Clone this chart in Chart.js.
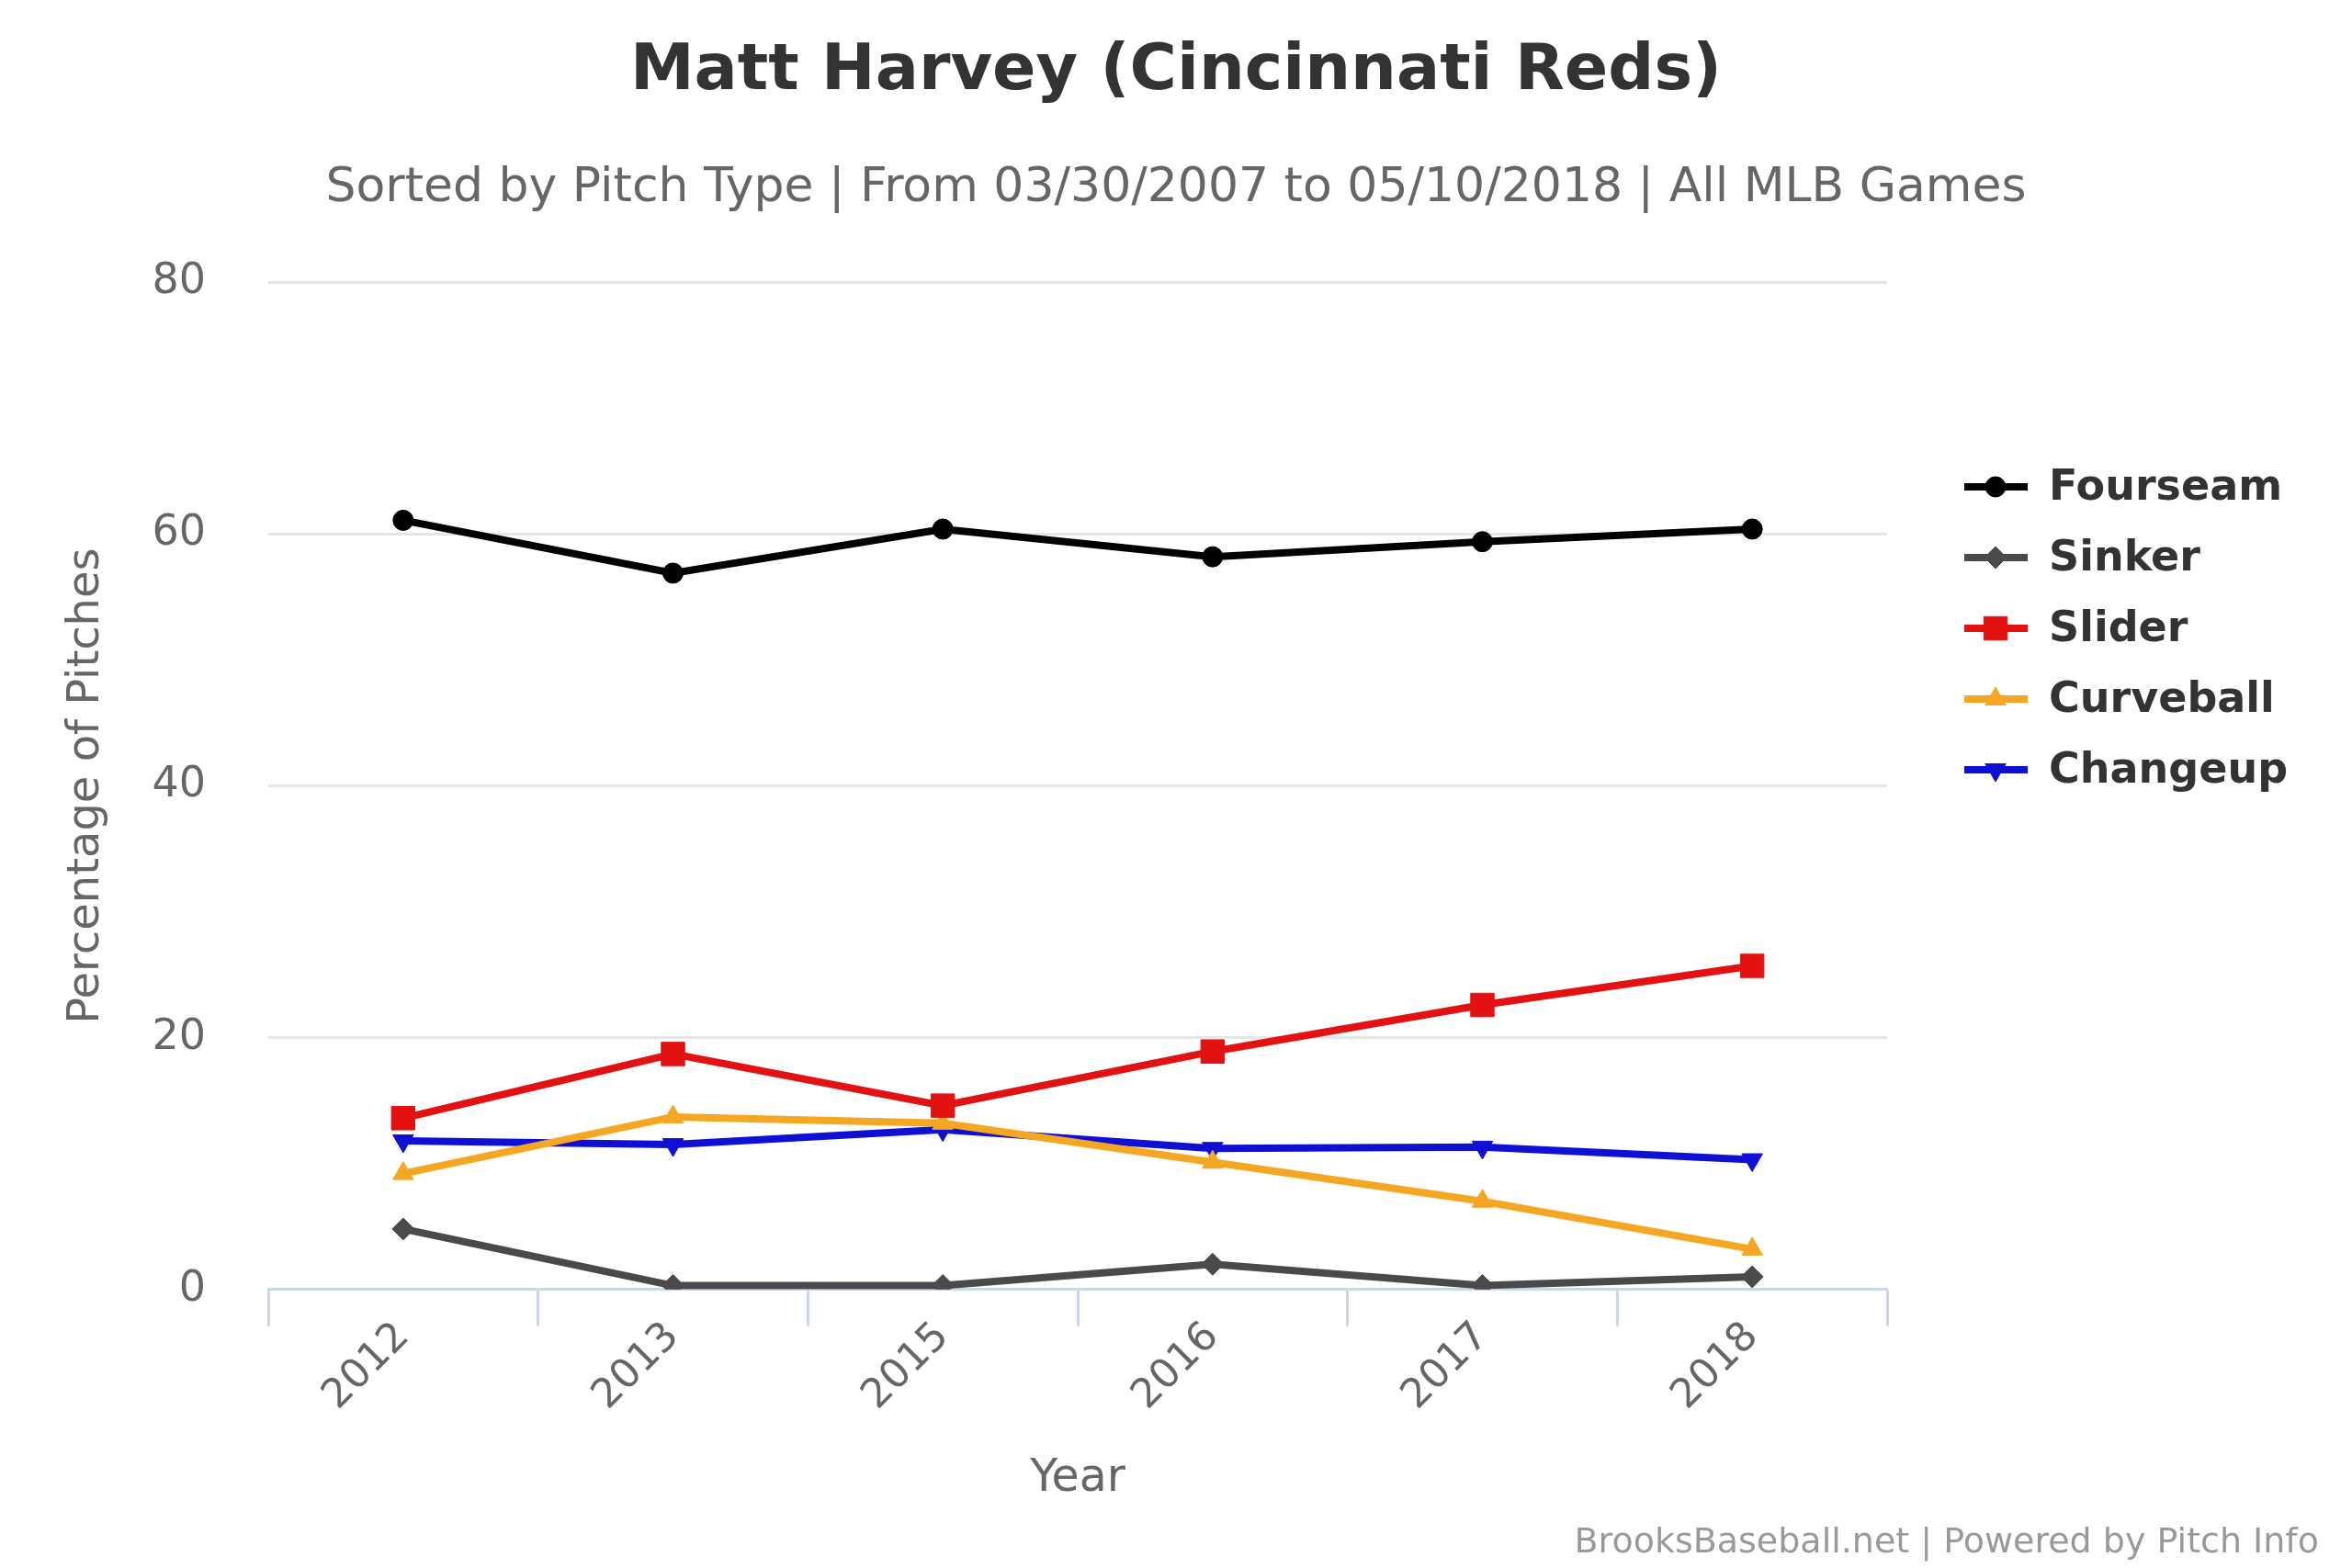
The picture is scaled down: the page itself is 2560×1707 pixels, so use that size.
<!DOCTYPE html>
<html>
<head>
<meta charset="utf-8">
<script src="https://cdn.jsdelivr.net/npm/chart.js@4/dist/chart.umd.min.js"></script>
<style>
  html, body { margin: 0; padding: 0; background: #fff; }
  #wrap { width: 2560px; height: 1707px; }
</style>
</head>
<body>
<div id="wrap"><canvas id="pitchChart" width="2560" height="1707"></canvas></div>
<script>
const years = ["2012", "2013", "2015", "2016", "2017", "2018"];
const fourseam = [61.1, 56.9, 60.4, 58.2, 59.4, 60.4];
const sinker = [4.8, 0.3, 0.3, 2.0, 0.3, 1.0];
const slider = [13.6, 18.7, 14.6, 18.9, 22.6, 25.7];
const curveball = [9.2, 13.7, 13.2, 10.1, 7.0, 3.2];
const changeup = [11.8, 11.5, 12.7, 11.2, 11.3, 10.3];
const yTicks = [0, 20, 40, 60, 80];

const FONT = "'DejaVu Sans', sans-serif";

function series(label, values, color, style, radius, rotation) {
  return {
    label: label,
    data: values,
    borderColor: color,
    backgroundColor: color,
    borderWidth: 8,
    pointStyle: style,
    pointRadius: radius,
    pointRotation: rotation || 0,
    pointBorderWidth: 1,
    pointBackgroundColor: color,
    pointBorderColor: color,
    tension: 0,
    fill: false,
  };
}

// legend with line + marker, drawn at the right like the original
const sideLegend = {
  id: "sideLegend",
  afterDraw(chart) {
    const ctx = chart.ctx;
    ctx.save();
    chart.data.datasets.forEach((ds, i) => {
      const y = 530 + i * 77;
      ctx.strokeStyle = ds.borderColor;
      ctx.lineWidth = 8;
      ctx.beginPath();
      ctx.moveTo(2138, y);
      ctx.lineTo(2207, y);
      ctx.stroke();
      ctx.fillStyle = ds.backgroundColor;
      ctx.strokeStyle = ds.borderColor;
      ctx.lineWidth = 1;
      Chart.helpers.drawPoint(ctx, {
        pointStyle: ds.pointStyle,
        radius: ds.pointRadius,
        rotation: ds.pointRotation,
        borderWidth: 1,
      }, 2172, y);
      ctx.fillStyle = "#333333";
      ctx.font = "bold 46px " + FONT;
      ctx.textAlign = "left";
      ctx.textBaseline = "middle";
      ctx.fillText(ds.label, 2230, y + 2);
    });
    ctx.restore();
  },
};

const credits = {
  id: "credits",
  afterDraw(chart) {
    const ctx = chart.ctx;
    ctx.save();
    ctx.fillStyle = "#999999";
    ctx.font = "38px " + FONT;
    ctx.textAlign = "right";
    ctx.textBaseline = "middle";
    ctx.fillText("BrooksBaseball.net | Powered by Pitch Info", 2524, 1680);
    ctx.restore();
  },
};

new Chart(document.getElementById("pitchChart").getContext("2d"), {
  type: "line",
  data: {
    labels: years,
    datasets: [
      series("Fourseam", fourseam, "#000000", "circle", 11),
      series("Sinker", sinker, "#4a4a4a", "rectRot", 12),
      series("Slider", slider, "#e31212", "rect", 18),
      series("Curveball", curveball, "#f5a623", "triangle", 13),
      series("Changeup", changeup, "#1010d4", "triangle", 13, 180),
    ],
  },
  options: {
    responsive: false,
    animation: false,
    devicePixelRatio: 1,
    layout: { padding: 0 },
    plugins: {
      legend: { display: false },
      tooltip: { enabled: false },
      title: {
        display: true,
        text: "Matt Harvey (Cincinnati Reds)",
        color: "#333333",
        font: { family: FONT, size: 70, weight: "bold", lineHeight: 1.2 },
        padding: { top: 37, bottom: 0 },
      },
      subtitle: {
        display: true,
        text: "Sorted by Pitch Type | From 03/30/2007 to 05/10/2018 | All MLB Games",
        color: "#666666",
        font: { family: FONT, size: 52, lineHeight: 1.2 },
        padding: { top: 53, bottom: 71 },
      },
    },
    scales: {
      x: {
        offset: true,
        grid: {
          offset: true,
          drawOnChartArea: false,
          drawTicks: true,
          tickLength: 40,
          tickColor: "#ccd6eb",
          tickWidth: 3,
        },
        border: { display: true, color: "#ccd6eb", width: 3 },
        ticks: {
          color: "#666666",
          font: { family: FONT, size: 44 },
          minRotation: 45,
          maxRotation: 45,
          padding: -14,
        },
        title: {
          display: true,
          text: "Year",
          color: "#666666",
          font: { family: FONT, size: 49, lineHeight: 1.2 },
          padding: { top: 49, bottom: 67 },
        },
      },
      y: {
        min: 0,
        max: 80,
        afterBuildTicks(axis) {
          axis.ticks = yTicks.map((v) => ({ value: v }));
        },
        afterFit(axis) {
          axis.width = 292;
        },
        grid: {
          color: "#e6e6e6",
          lineWidth: 3,
          drawTicks: true,
          tickLength: 68,
          tickColor: "rgba(0,0,0,0)",
        },
        border: { display: false },
        ticks: {
          color: "#666666",
          font: { family: FONT, size: 46 },
          padding: 0,
        },
        title: {
          display: true,
          text: "Percentage of Pitches",
          color: "#666666",
          font: { family: FONT, size: 48, lineHeight: 1.2 },
          padding: { top: 66, bottom: 0 },
        },
      },
      // empty right-hand scale that keeps room for the legend
      legendRoom: {
        type: "linear",
        position: "right",
        display: true,
        grid: { display: false },
        border: { display: false },
        ticks: { display: false },
        afterFit(axis) {
          axis.width = 506;
        },
      },
    },
  },
  plugins: [sideLegend, credits],
});
</script>
</body>
</html>
